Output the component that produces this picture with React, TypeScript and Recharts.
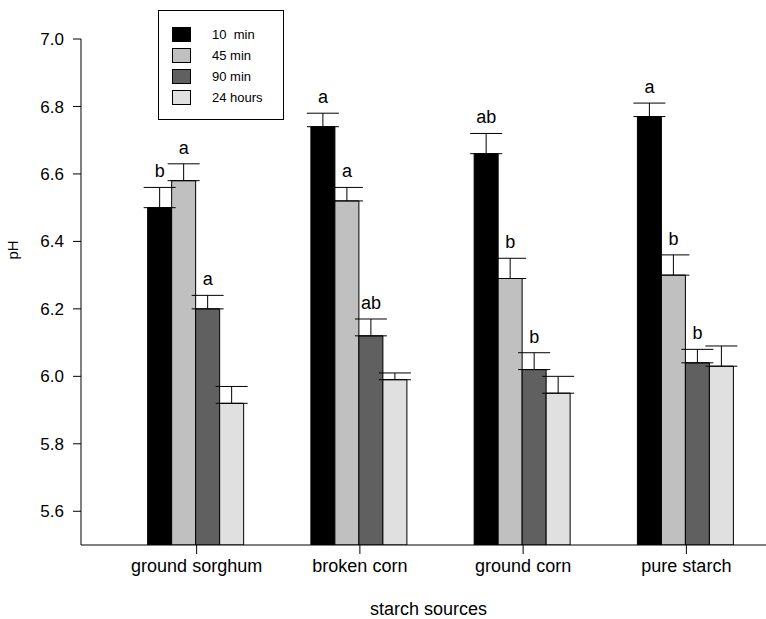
import React from 'react';
import { BarChart, Bar, XAxis, YAxis, ErrorBar, LabelList } from 'recharts';

const sources = ['ground sorghum', 'broken corn', 'ground corn', 'pure starch'];

const ph10min = [6.5, 6.74, 6.66, 6.77];
const ph45min = [6.58, 6.52, 6.29, 6.3];
const ph90min = [6.2, 6.12, 6.02, 6.04];
const ph24h = [5.92, 5.99, 5.95, 6.03];

const se10min = [0.06, 0.04, 0.06, 0.04];
const se45min = [0.05, 0.04, 0.06, 0.06];
const se90min = [0.04, 0.05, 0.05, 0.04];
const se24h = [0.05, 0.02, 0.05, 0.06];

const letters10min = ['b', 'a', 'ab', 'a'];
const letters45min = ['a', 'a', 'b', 'b'];
const letters90min = ['a', 'ab', 'b', 'b'];
const letters24h = ['', '', '', ''];

const yTicks = [5.6, 5.8, 6.0, 6.2, 6.4, 6.6, 6.8, 7.0];
const Y_MIN = 5.5;
const Y_MAX = 7.0;

const series = [
  { key: 't10', name: '10  min', fill: '#000000', values: ph10min, errs: se10min, letters: letters10min },
  { key: 't45', name: '45 min', fill: '#c0c0c0', values: ph45min, errs: se45min, letters: letters45min },
  { key: 't90', name: '90 min', fill: '#606060', values: ph90min, errs: se90min, letters: letters90min },
  { key: 't24', name: '24 hours', fill: '#e0e0e0', values: ph24h, errs: se24h, letters: letters24h },
];

const data = sources.map((source, i) => {
  const row: any = { source };
  series.forEach((s) => {
    row[s.key] = s.values[i];
    row[s.key + 'Err'] = [0, s.errs[i]];
  });
  return row;
});

const FONT = '"Liberation Sans", Arial, Helvetica, sans-serif';

// letter sits ~10px above the top of the error bar
const makeLetter = (s: typeof series[number]) => (props: any) => {
  const vb = props.viewBox && props.viewBox.height !== undefined ? props.viewBox : props;
  const { x, y, width, height } = vb;
  const idx = props.index;
  const letter = s.letters[idx];
  if (!letter) return null;
  const pxPerUnit = height / (s.values[idx] - Y_MIN);
  const top = y - s.errs[idx] * pxPerUnit;
  return (
    <text x={x + width / 2} y={top - 10} textAnchor="middle" fontSize={18} fill="#000" fontFamily={FONT}>
      {letter}
    </text>
  );
};

const LegendBox = () => (
  <svg width={126} height={110} style={{ display: 'block' }}>
    <rect x={0.5} y={0.5} width={125} height={109} fill="#fff" stroke="#000" strokeWidth={1} />
    {series.map((s, i) => (
      <g key={s.key}>
        <rect x={14.5} y={17.5 + i * 21} width={18} height={14} fill={s.fill} stroke="#000" strokeWidth={1} />
        <text x={54} y={29 + i * 21} fontSize={13} fontFamily={FONT} fill="#000" style={{ whiteSpace: 'pre' }}>
          {s.name}
        </text>
      </g>
    ))}
  </svg>
);

export default function App() {
  return (
    <div style={{ position: 'absolute', left: 0, top: 0, width: 766, height: 619, overflow: 'hidden', fontFamily: FONT }}>
      <BarChart
        width={788}
        height={619}
        data={data}
        margin={{ top: 39, right: 20, left: 0, bottom: 34 }}
        barCategoryGap="20%"
        barGap={0}
      >
        <XAxis
          dataKey="source"
          padding={{ left: 34, right: 0 }}
          height={40}
          tickSize={9}
          tickMargin={5}
          axisLine={{ stroke: '#000', strokeWidth: 1 }}
          tickLine={{ stroke: '#000', strokeWidth: 1 }}
          tick={{ fill: '#000', fontSize: 18, fontFamily: FONT }}
          interval={0}
          label={(props: any) => {
            const vb = props.viewBox;
            return (
              <text x={vb.x + vb.width / 2 + 4} y={615} textAnchor="middle" fontSize={18} fontFamily={FONT} fill="#000">
                starch sources
              </text>
            );
          }}
        />
        <YAxis
          width={81}
          domain={[Y_MIN, Y_MAX]}
          ticks={yTicks}
          allowDataOverflow
          tickFormatter={(v: number) => v.toFixed(1)}
          tickSize={8}
          tickMargin={9}
          axisLine={{ stroke: '#000', strokeWidth: 1 }}
          tickLine={{ stroke: '#000', strokeWidth: 1 }}
          tick={{ fill: '#000', fontSize: 17, fontFamily: FONT }}
          label={() => (
            <text x={18} y={250} transform="rotate(-90 18 250)" textAnchor="middle" fontSize={15} fontFamily={FONT} fill="#000">
              pH
            </text>
          )}
        />
        {series.map((s) => (
          <Bar key={s.key} dataKey={s.key} name={s.name} fill={s.fill} stroke="#000" strokeWidth={1} isAnimationActive={false}>
            <ErrorBar dataKey={s.key + 'Err'} direction="y" width={16} stroke="#000" strokeWidth={1} />
            <LabelList dataKey={s.key} content={makeLetter(s)} />
          </Bar>
        ))}
      </BarChart>
      <div style={{ position: 'absolute', left: 158, top: 10 }}>
        <LegendBox />
      </div>
    </div>
  );
}
